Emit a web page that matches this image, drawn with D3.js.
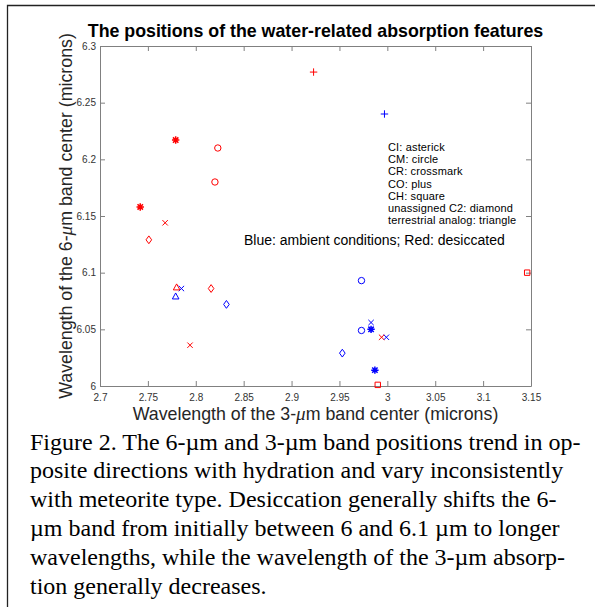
<!DOCTYPE html>
<html>
<head>
<meta charset="utf-8">
<script src="https://cdn.jsdelivr.net/npm/d3@7"></script>
<style>
  body { margin: 0; background: #fff; }
  svg { display: block; }
</style>
</head>
<body>
<div class="chartContainer"></div>
<script>
const width = 595,
  height = 607;

// ambient conditions (blue)
const ambientX = [2.997, 2.973, 2.973, 2.785, 2.983, 2.999, 2.983, 2.987, 2.832, 2.953, 2.779];
const ambientY = [6.240, 6.093, 6.049, 6.086, 6.056, 6.043, 6.050, 6.014, 6.072, 6.029, 6.079];
const ambientType = ["plus", "circle", "circle", "cross", "cross", "cross", "asterisk", "asterisk", "diamond", "diamond", "triangle"];

// desiccated (red)
const desiccX = [2.779, 2.742, 2.823, 2.820, 2.768, 2.794, 2.994, 2.923, 3.146, 2.990, 2.751, 2.816, 2.780];
const desiccY = [6.217, 6.158, 6.210, 6.180, 6.144, 6.036, 6.043, 6.277, 6.100, 6.001, 6.129, 6.086, 6.087];
const desiccType = ["asterisk", "asterisk", "circle", "circle", "cross", "cross", "cross", "plus", "square", "square", "diamond", "diamond", "triangle"];

const xTicks = [2.7, 2.75, 2.8, 2.85, 2.9, 2.95, 3, 3.05, 3.1, 3.15];
const yTicks = [6, 6.05, 6.1, 6.15, 6.2, 6.25, 6.3];

const legendLines = [
  "CI: asterick",
  "CM: circle",
  "CR: crossmark",
  "CO: plus",
  "CH: square",
  "unassigned C2: diamond",
  "terrestrial analog: triangle"
];

const captionLines = [
  "Figure 2. The 6-\u00b5m and 3-\u00b5m band positions trend in op-",
  "posite directions with hydration and vary inconsistently",
  "with meteorite type. Desiccation generally shifts the 6-",
  "\u00b5m band from initially between 6 and 6.1 \u00b5m to longer",
  "wavelengths, while the wavelength of the 3-\u00b5m absorp-",
  "tion generally decreases."
];

const svg = d3
  .select(".chartContainer")
  .append("svg")
  .attr("width", width)
  .attr("height", height);

svg.append("rect").attr("width", width).attr("height", height).attr("fill", "#fff");

// frame of the figure box (top and left edges visible)
svg
  .append("path")
  .attr("d", "M7.5,607 V5.5 H595")
  .attr("fill", "none")
  .attr("stroke", "#222")
  .attr("stroke-width", 1.3);

const plot = { left: 100, right: 531, top: 46, bottom: 386 };

const xScale = d3.scaleLinear().domain([2.7, 3.15]).range([plot.left, plot.right]);
const yScale = d3.scaleLinear().domain([6, 6.3]).range([plot.bottom, plot.top]);

const fmt = (d) => String(+d.toFixed(2));
const axisColor = "#808080";
const labelFont = "'Liberation Sans', Arial, Helvetica, sans-serif";

// bottom axis with labels
const xAxis = d3.axisBottom(xScale).tickValues(xTicks).tickFormat(fmt).tickSizeInner(-5).tickSizeOuter(0).tickPadding(8);
const gx = svg.append("g").attr("transform", `translate(0,${plot.bottom})`).call(xAxis);
// left axis with labels
const yAxis = d3.axisLeft(yScale).tickValues(yTicks).tickFormat(fmt).tickSizeInner(-5).tickSizeOuter(0).tickPadding(9);
const gy = svg.append("g").attr("transform", `translate(${plot.left},0)`).call(yAxis);
// top and right, ticks only
const gt = svg
  .append("g")
  .attr("transform", `translate(0,${plot.top})`)
  .call(d3.axisTop(xScale).tickValues(xTicks).tickFormat("").tickSizeInner(-5).tickSizeOuter(0));
const gr = svg
  .append("g")
  .attr("transform", `translate(${plot.right},0)`)
  .call(d3.axisRight(yScale).tickValues(yTicks).tickFormat("").tickSizeInner(-5).tickSizeOuter(0));

[gx, gy, gt, gr].forEach((g) => {
  g.selectAll("path.domain").attr("stroke", axisColor).attr("stroke-width", 1);
  g.selectAll(".tick line").attr("stroke", axisColor).attr("stroke-width", 1);
  g.selectAll(".tick text")
    .attr("fill", "#333")
    .style("font-family", labelFont)
    .style("font-size", "10px");
});
gy.selectAll(".tick text").attr("dx", "0.5em");

// marker shapes
function markerPath(type) {
  switch (type) {
    case "circle":
      return d3.symbol().type(d3.symbolCircle).size(Math.PI * 3.2 * 3.2)();
    case "square":
      return "M-2.7,-2.7H2.7V2.7H-2.7Z";
    case "diamond":
      return "M0,-3.9L2.8,0L0,3.9L-2.8,0Z";
    case "triangle":
      return "M0,-3.5L3.3,2.5H-3.3Z";
    case "plus":
      return "M-3.7,0H3.7M0,-3.7V3.7";
    case "cross":
      return "M-2.7,-2.7L2.7,2.7M-2.7,2.7L2.7,-2.7";
    case "asterisk":
      return "M-3.7,0H3.7M0,-3.7V3.7M-2.7,-2.7L2.7,2.7M-2.7,2.7L2.7,-2.7";
  }
}

function drawSeries(xs, ys, types, colour) {
  svg
    .append("g")
    .selectAll("path")
    .data(xs)
    .enter()
    .append("path")
    .attr("transform", (d, i) => `translate(${xScale(d)},${yScale(ys[i])})`)
    .attr("d", (d, i) => markerPath(types[i]))
    .attr("fill", "none")
    .attr("stroke", colour)
    .attr("stroke-width", (d, i) => (types[i] === "asterisk" ? 1.5 : 1));
}

drawSeries(ambientX, ambientY, ambientType, "#0000ff");
drawSeries(desiccX, desiccY, desiccType, "#ff0000");

// title
svg
  .append("text")
  .attr("x", (plot.left + plot.right) / 2)
  .attr("y", 36.5)
  .attr("text-anchor", "middle")
  .style("font-family", labelFont)
  .style("font-weight", "bold")
  .style("font-size", "17.8px")
  .attr("fill", "#000")
  .text("The positions of the water-related absorption features");

// axis titles, with an italic mu
function axisTitle(sel, band) {
  sel.append("tspan").text(`Wavelength of the ${band}-`);
  sel
    .append("tspan")
    .style("font-family", "'Liberation Serif', 'Times New Roman', serif")
    .style("font-style", "italic")
    .style("font-size", "19px")
    .text("\u03bc");
  sel.append("tspan").text("m band center (microns)");
}

svg
  .append("text")
  .attr("x", (plot.left + plot.right) / 2)
  .attr("y", 420)
  .attr("text-anchor", "middle")
  .style("font-family", labelFont)
  .style("font-size", "17.8px")
  .attr("fill", "#262626")
  .call(axisTitle, 3);

svg
  .append("text")
  .attr("transform", `translate(72,${(plot.top + plot.bottom) / 2}) rotate(-90)`)
  .attr("text-anchor", "middle")
  .style("font-family", labelFont)
  .style("font-size", "17.8px")
  .attr("fill", "#262626")
  .call(axisTitle, 6);

// marker key
svg
  .append("g")
  .selectAll("text")
  .data(legendLines)
  .enter()
  .append("text")
  .attr("x", 388)
  .attr("y", (d, i) => 151 + i * 12.2)
  .style("font-family", labelFont)
  .style("font-size", "11px")
  .style("letter-spacing", "0.15px")
  .attr("fill", "#000")
  .text((d) => d);

svg
  .append("text")
  .attr("x", 244)
  .attr("y", 245)
  .style("font-family", labelFont)
  .style("font-size", "14px")
  .attr("fill", "#000")
  .text("Blue: ambient conditions; Red: desiccated");

// caption
svg
  .append("g")
  .selectAll("text")
  .data(captionLines)
  .enter()
  .append("text")
  .attr("x", 30)
  .attr("y", (d, i) => 449.5 + i * 28.8)
  .style("font-family", "'Liberation Serif', 'Times New Roman', serif")
  .style("font-size", "24px")
  .attr("fill", "#000")
  .text((d) => d);
</script>
</body>
</html>
